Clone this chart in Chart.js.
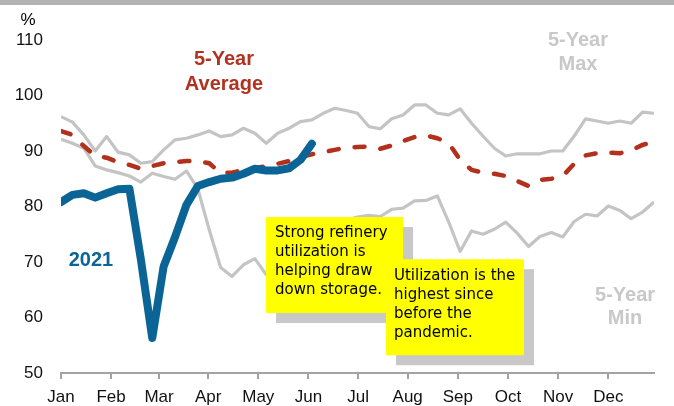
<!DOCTYPE html>
<html>
<head>
<meta charset="utf-8">
<script src="https://cdn.jsdelivr.net/npm/chart.js@4.4.1/dist/chart.umd.min.js"></script>
<style>
  html, body { margin: 0; padding: 0; background: #fff; }
  #wrap { width: 674px; height: 406px; }
</style>
</head>
<body>
<div id="wrap"><canvas id="c" width="674" height="406"></canvas></div>
<script>
// ---- data (weekly, week 0 = first week of January) ----
const monthLabels = ["Jan","Feb","Mar","Apr","May","Jun","Jul","Aug","Sep","Oct","Nov","Dec"];
const monthTickWeeks = [0, 4.39, 8.6, 12.9, 17.3, 21.7, 26.05, 30.4, 34.8, 39.2, 43.6, 48.0];
const yTicks = [50, 60, 70, 80, 90, 100, 110];

const fiveYearMax = [96.2,95.2,92.9,90.0,92.6,89.8,89.3,87.8,88.1,90.2,92.0,92.3,92.9,93.6,92.6,92.9,94.1,93.2,91.4,93.2,
  94.1,95.3,95.6,96.8,97.7,97.3,96.8,94.4,94.0,95.8,96.5,98.3,98.3,96.8,96.5,97.6,95.0,92.7,90.5,89.1,
  89.5,89.5,89.5,90.0,90.0,92.7,95.8,95.4,95.0,95.4,95.0,97.0,96.8];
const fiveYearAvg = [93.6,92.9,90.9,89.1,88.8,88.0,87.5,86.8,87.3,87.8,88.0,88.2,88.2,87.8,86.0,86.1,86.6,86.9,87.3,87.7,
  88.2,88.9,89.4,89.8,90.2,90.6,90.7,90.8,90.4,91.0,91.8,92.5,92.8,92.3,91.4,88.4,86.6,86.1,85.9,85.5,
  84.6,83.7,84.8,85.0,85.5,87.7,89.2,89.6,89.7,89.6,90.1,91.1,91.7];
const fiveYearMin = [92.1,91.4,90.5,87.3,86.6,86.1,85.5,84.4,86.0,85.4,84.9,86.4,83.2,75.8,69.0,67.4,69.5,70.6,67.7,69.0,
  71.5,72.5,74.0,75.5,76.5,77.5,78.1,78.4,78.2,79.5,79.7,81.0,81.1,81.9,77.2,71.9,75.6,75.0,75.9,77.2,
  75.2,72.8,74.6,75.3,74.5,77.3,78.6,78.3,80.1,79.3,77.8,79.0,80.8];
const y2021 = [80.8,82.1,82.4,81.6,82.4,83.1,83.2,70.5,56.3,69.2,74.5,80.3,83.7,84.4,85.0,85.2,85.9,86.8,86.5,86.5,
  86.9,88.4,91.3];

const toXY = arr => arr.map((v, i) => ({ x: i, y: v }));

// ---- annotation text ----
const note1Lines = ["Strong refinery", "utilization is", "helping draw", "down storage."];
const note2Lines = ["Utilization is the", "highest since", "before the", "pandemic."];

const overlay = {
  id: 'overlay',
  beforeDraw(chart) {
    const ctx = chart.ctx;
    ctx.save();
    ctx.fillStyle = '#ffffff';
    ctx.fillRect(0, 0, chart.width, chart.height);
    ctx.fillStyle = '#b3b3b3';
    ctx.fillRect(0, 0, chart.width, 5);
    ctx.restore();
  },
  afterDatasetsDraw(chart) {
    const ctx = chart.ctx;
    const xs = chart.scales.x, ys = chart.scales.y;
    const px = w => xs.getPixelForValue(w);
    const py = v => ys.getPixelForValue(v);
    ctx.save();
    // "%" unit label
    ctx.fillStyle = '#000';
    ctx.font = '17px "Liberation Sans", Arial, sans-serif';
    ctx.textAlign = 'center';
    ctx.textBaseline = 'middle';
    ctx.fillText('%', 28, 20);

    // series labels
    ctx.font = 'bold 20px "Liberation Sans", Arial, sans-serif';
    ctx.fillStyle = '#b3321f';
    ctx.fillText('5-Year', px(14.29), py(106.4));
    ctx.fillText('Average', px(14.29), py(101.9));
    ctx.fillStyle = '#c8c8c8';
    ctx.fillText('5-Year', px(45.33), py(110.0));
    ctx.fillText('Max', px(45.33), py(105.5));
    ctx.fillText('5-Year', px(49.46), py(64.05));
    ctx.fillText('Min', px(49.46), py(59.9));
    ctx.fillStyle = '#0b6496';
    ctx.fillText('2021', px(2.63), py(70.36));

    // sticky notes
    const note = (w0, w1, v0, v1, lines, padL, firstOff) => {
      const x0 = px(w0), x1 = px(w1), y0 = py(v0), y1 = py(v1);
      ctx.fillStyle = '#c8c8c8';
      ctx.fillRect(x0 + 10, y0 + 10, x1 - x0, y1 - y0);
      ctx.fillStyle = '#ffff00';
      ctx.fillRect(x0, y0, x1 - x0, y1 - y0);
      ctx.fillStyle = '#000';
      ctx.font = '15px "Comic Sans MS", "DejaVu Sans", sans-serif';
      ctx.textAlign = 'left';
      ctx.textBaseline = 'middle';
      lines.forEach((t, i) => ctx.fillText(t, x0 + padL, y0 + firstOff + i * 19));
    };
    note(17.98, 29.99, 78.1, 60.8, note1Lines, 9, 16.5);
    note(28.5, 40.6, 70.5, 53.2, note2Lines, 8, 17);
    ctx.restore();
  }
};

new Chart(document.getElementById('c'), {
  type: 'line',
  data: {
    datasets: [
      { label: '2021', data: toXY(y2021), borderColor: '#0b6496', borderWidth: 8,
        borderJoinStyle: 'round', borderCapStyle: 'round', pointRadius: 0, tension: 0 },
      { label: '5-Year Average', data: toXY(fiveYearAvg), borderColor: '#b3301c', borderWidth: 4.5,
        borderDash: [10, 16], borderCapStyle: 'round', borderJoinStyle: 'round', pointRadius: 0, tension: 0 },
      { label: '5-Year Max', data: toXY(fiveYearMax), borderColor: '#c4c4c4', borderWidth: 3.2,
        borderJoinStyle: 'round', pointRadius: 0, tension: 0 },
      { label: '5-Year Min', data: toXY(fiveYearMin), borderColor: '#c4c4c4', borderWidth: 3.2,
        borderJoinStyle: 'round', pointRadius: 0, tension: 0 }
    ]
  },
  options: {
    responsive: false,
    animation: false,
    devicePixelRatio: 1,
    layout: { padding: { top: 40, right: 20, bottom: 0, left: 0 } },
    plugins: { legend: { display: false }, tooltip: { enabled: false } },
    scales: {
      x: {
        type: 'linear', min: 0, max: 52,
        afterBuildTicks: s => { s.ticks = monthTickWeeks.map(v => ({ value: v })); },
        afterFit: s => { s.height = 33; },
        border: { display: true, color: '#a3a3a3', width: 2 },
        grid: { display: true, drawOnChartArea: false, drawTicks: true, tickLength: 6, color: '#a3a3a3', lineWidth: 2 },
        ticks: {
          autoSkip: false, maxRotation: 0, padding: 8, color: '#111',
          font: { family: '"Liberation Sans", Arial, sans-serif', size: 17 },
          callback: (v, i) => monthLabels[i]
        }
      },
      y: {
        type: 'linear', min: 50, max: 110,
        afterBuildTicks: s => { s.ticks = yTicks.map(v => ({ value: v })); },
        afterFit: s => { s.width = 61; },
        border: { display: false },
        grid: { display: false, drawTicks: false },
        ticks: {
          padding: 18, color: '#111',
          font: { family: '"Liberation Sans", Arial, sans-serif', size: 17 }
        }
      }
    }
  },
  plugins: [overlay]
});
</script>
</body>
</html>
